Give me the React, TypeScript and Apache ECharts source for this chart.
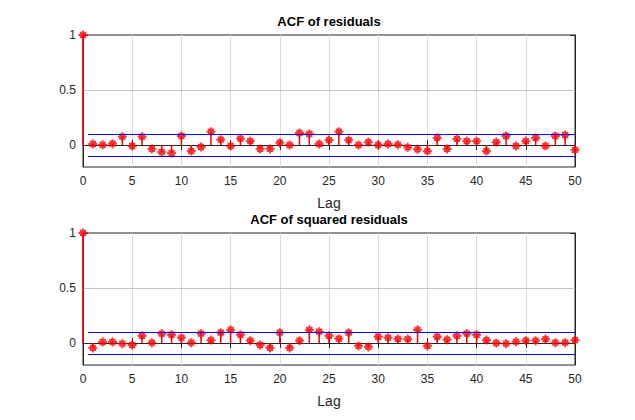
import React, { useEffect, useRef } from "react";
import * as echarts from "echarts";

const lags = [0, 1, 2, 3, 4, 5, 6, 7, 8, 9, 10, 11, 12, 13, 14, 15, 16, 17, 18, 19, 20, 21, 22, 23, 24, 25, 26, 27, 28, 29, 30, 31, 32, 33, 34, 35, 36, 37, 38, 39, 40, 41, 42, 43, 44, 45, 46, 47, 48, 49, 50];
const acfResiduals = [1, 0.009, 0.002, 0.012, 0.076, -0.009, 0.076, -0.036, -0.064, -0.073, 0.082, -0.055, -0.018, 0.121, 0.048, -0.009, 0.058, 0.036, -0.036, -0.036, 0.021, 0.0, 0.109, 0.1, 0.009, 0.045, 0.121, 0.045, 0.0, 0.027, 0.0, 0.009, 0.003, -0.021, -0.039, -0.055, 0.064, -0.036, 0.055, 0.036, 0.036, -0.055, 0.027, 0.082, -0.009, 0.036, 0.064, -0.009, 0.082, 0.091, -0.045];
const acfSquared = [1, -0.045, 0.009, 0.009, -0.006, -0.018, 0.066, 0.003, 0.085, 0.075, 0.048, 0.003, 0.085, 0.027, 0.094, 0.12, 0.075, 0.021, -0.018, -0.045, 0.094, -0.045, 0.021, 0.12, 0.103, 0.066, 0.039, 0.094, -0.027, -0.036, 0.057, 0.048, 0.037, 0.036, 0.12, -0.027, 0.057, 0.03, 0.066, 0.085, 0.075, 0.027, 0.0, -0.006, 0.012, 0.021, 0.021, 0.036, 0.003, 0.003, 0.027];
const confBound = 0.097;
const boundStart = 0.5;
const titles = ["ACF of residuals", "ACF of squared residuals"];
const xLabel = "Lag";
const yTicks = [0, 0.5, 1];

const FONT = "'Liberation Sans', Arial, Helvetica, sans-serif";
const AX = "#262626";
const GRIDC = "#d9d9d9";
const HGRIDC = "#c4c4c4";
const MARKER = "path://M4,0H6V1.5H8.5V4H10V6H8.5V8.5H6V10H4V8.5H1.5V6H0V4H1.5V1.5H4Z";
const TICKLEN = 5;

export default function App() {
  const ref = useRef<HTMLDivElement>(null);
  useEffect(() => {
    if (!ref.current) return;
    const chart = echarts.init(ref.current, null, { renderer: "svg" });
    const tops = [35, 233];
    const gridH = 132;
    const left = 83;
    const width = 492;
    const datasets = [acfResiduals, acfSquared];
    const xFirst = lags[0];
    const xLast = lags[lags.length - 1];

    const grids = tops.map((t) => ({
      left, top: t, width, height: gridH,
      show: true, borderColor: AX, borderWidth: 1, backgroundColor: "transparent",
    }));

    const hLines = (xi: number, yi: number, rows: number[][], colors: string[], z: number) => ({
      type: "custom", xAxisIndex: xi, yAxisIndex: yi, z, silent: true,
      encode: { x: [0, 1], y: 2 },
      data: rows,
      renderItem: (params: any, api: any) => {
        const a = api.coord([api.value(0), api.value(2)]);
        const b = api.coord([api.value(1), api.value(2)]);
        const y = Math.round(a[1]) + 0.5;
        return {
          type: "line",
          shape: { x1: a[0], y1: y, x2: b[0], y2: y },
          style: { stroke: colors[params.dataIndex], lineWidth: 1 },
        };
      },
    });

    const yBase = (gi: number, position: string) => ({
      type: "value", gridIndex: gi, min: -0.2, max: 1, position,
      splitLine: { show: false },
    });

    const xAxes: any[] = [];
    const yAxes: any[] = [];
    const series: any[] = [];
    tops.forEach((_, gi) => {
      xAxes.push({
        type: "value", gridIndex: gi, min: 0, max: 50, interval: 5, position: "bottom",
        axisLine: { show: true, lineStyle: { color: AX, width: 1 } },
        axisTick: { show: true, inside: true, length: TICKLEN, lineStyle: { color: AX } },
        axisLabel: { color: AX, fontSize: 12, fontFamily: FONT, margin: 8 },
        splitLine: { show: true, lineStyle: { color: GRIDC, width: 1 } },
      });
      xAxes.push({
        type: "value", gridIndex: gi, min: 0, max: 50, interval: 5, position: "top",
        axisLine: { show: true, lineStyle: { color: AX, width: 1 } },
        axisTick: { show: true, inside: true, length: TICKLEN, lineStyle: { color: AX } },
        axisLabel: { show: false },
        splitLine: { show: false },
      });
      yAxes.push({
        ...yBase(gi, "left"),
        axisLine: { show: true, lineStyle: { color: AX, width: 1 } },
        axisTick: { show: false },
        axisLabel: { color: AX, fontSize: 12, fontFamily: FONT, margin: 7, customValues: yTicks },
      });
      yAxes.push({
        ...yBase(gi, "left"), offset: -TICKLEN,
        axisLine: { show: false },
        axisTick: { show: true, inside: false, length: TICKLEN, customValues: yTicks, lineStyle: { color: AX } },
        axisLabel: { show: false, customValues: yTicks },
      });
      yAxes.push({
        ...yBase(gi, "right"),
        axisLine: { show: true, lineStyle: { color: AX, width: 1 } },
        axisTick: { show: false },
        axisLabel: { show: false },
      });
      yAxes.push({
        ...yBase(gi, "right"), offset: -TICKLEN,
        axisLine: { show: false },
        axisTick: { show: true, inside: false, length: TICKLEN, customValues: yTicks, lineStyle: { color: AX } },
        axisLabel: { show: false, customValues: yTicks },
      });
      const xi = gi * 2;
      const yi = gi * 4;
      const vals = datasets[gi];
      const pts = lags.map((l, i) => [l, vals[i]]);
      series.push(hLines(xi, yi, [[xFirst, xLast, yTicks[1]], [xFirst, xLast, 0]], [HGRIDC, AX], 2));
      series.push({
        type: "custom", xAxisIndex: xi, yAxisIndex: yi, z: 3, silent: true,
        data: pts,
        renderItem: (params: any, api: any) => {
          const x = api.value(0);
          const y = api.value(1);
          const a = api.coord([x, 0]);
          const b = api.coord([x, y]);
          return {
            type: "line",
            shape: { x1: a[0], y1: a[1], x2: b[0], y2: b[1] },
            style: { stroke: "#ff0000", lineWidth: 1.5 },
          };
        },
      });
      series.push({
        type: "scatter", xAxisIndex: xi, yAxisIndex: yi, z: 4, silent: true,
        symbol: MARKER, symbolSize: 9,
        itemStyle: { color: "#ff0000" },
        data: pts,
      });
      series.push(hLines(xi, yi, [[boundStart, xLast, confBound], [boundStart, xLast, -confBound]], ["#0000ff", "#0000ff"], 5));
    });

    const cx = left + width / 2;
    const graphic: any[] = [];
    tops.forEach((t, gi) => {
      graphic.push({
        type: "text", x: cx, y: t - 14,
        style: { text: titles[gi], fill: "#000", font: `bold 13px ${FONT}`, align: "center", verticalAlign: "middle" },
      });
      graphic.push({
        type: "text", x: cx, y: t + gridH + 36,
        style: { text: xLabel, fill: AX, font: `14px ${FONT}`, align: "center", verticalAlign: "middle" },
      });
    });

    chart.setOption({
      animation: false,
      backgroundColor: "#ffffff",
      textStyle: { fontFamily: FONT },
      grid: grids,
      xAxis: xAxes,
      yAxis: yAxes,
      series,
      graphic,
    });
    return () => chart.dispose();
  }, []);
  return (
    <div
      ref={ref}
      style={{ position: "fixed", left: 0, top: 0, width: 635, height: 420, background: "#fff" }}
    />
  );
}
